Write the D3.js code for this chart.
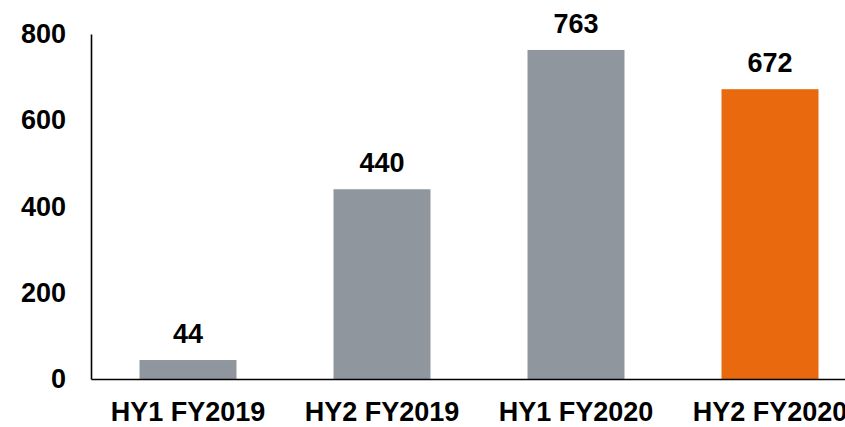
<!DOCTYPE html>
<html>
<head>
<meta charset="utf-8">
<script src="https://cdn.jsdelivr.net/npm/d3@7"></script>
<style>
  body { margin: 0; background: #fff; }
  svg text { font-family: "Liberation Sans", Arial, sans-serif; font-weight: bold; fill: #000; }
</style>
</head>
<body>
<svg width="845" height="427"></svg>
<script>
let periods = ["HY1 FY2019", "HY2 FY2019", "HY1 FY2020", "HY2 FY2020"]
let values = [44, 440, 763, 672]
let yTicks = [0, 200, 400, 600, 800]
let highlight = "HY2 FY2020"

let svg = d3.select("svg")

let x = d3.scaleBand().range([91, 867]).paddingInner(0.5).paddingOuter(0.25).domain(periods)
let y = d3.scaleLinear().range([379, 34]).domain([0, 800])

let data = periods.map((p, i) => { return {period: p, value: values[i]} })

// bars
svg.selectAll(".bar")
  .data(data)
  .enter().append("rect")
  .attr("class", "bar")
  .attr("x", (d) => x(d.period))
  .attr("y", (d) => y(d.value))
  .attr("width", x.bandwidth())
  .attr("height", (d) => y(0) - y(d.value))
  .attr("fill", (d) => d.period == highlight ? "#e8690e" : "#8f969d")

// value labels
svg.selectAll(".val")
  .data(data)
  .enter().append("text")
  .attr("class", "val")
  .attr("x", (d) => x(d.period) + x.bandwidth() / 2)
  .attr("y", (d) => y(d.value) - 17)
  .attr("text-anchor", "middle")
  .attr("font-size", "27px")
  .text((d) => d.value)

// axes
let yAxis = svg.append("g")
  .attr("transform", "translate(91,0)")
  .call(d3.axisLeft(y).tickValues(yTicks).tickSize(0).tickPadding(25))
yAxis.selectAll("text").attr("font-size", "27px").attr("font-family", null)
yAxis.select(".domain").attr("stroke", "#000").attr("stroke-width", 1.6)

let xAxis = svg.append("g")
  .attr("transform", "translate(0,379)")
  .call(d3.axisBottom(x).tickSize(0).tickPadding(23))
xAxis.selectAll("text").attr("font-size", "27px").attr("font-family", null)
xAxis.select(".domain").attr("stroke", "#000").attr("stroke-width", 1.6)
</script>
</body>
</html>
